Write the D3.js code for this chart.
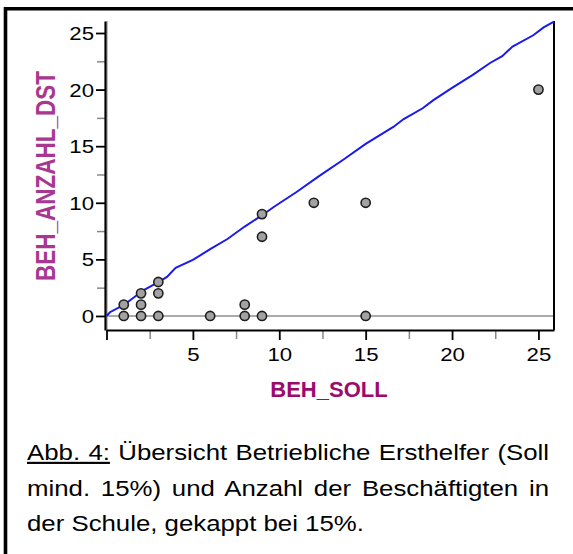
<!DOCTYPE html>
<html>
<head>
<meta charset="utf-8">
<script src="https://cdn.jsdelivr.net/npm/d3@7"></script>
<style>
  html, body { margin: 0; padding: 0; background: #fff; }
  svg { display: block; font-family: Arial, "Liberation Sans", sans-serif; }
</style>
</head>
<body>
<svg id="chart" width="573" height="554"></svg>
<script>
// Scatter BEH_SOLL vs BEH_ANZAHL_DST with a wobbly fit line
const sollValues   = [1, 1, 2, 2, 2, 3, 3, 3, 6, 8, 8, 9, 9, 9, 12, 15, 15, 25];
const anzahlValues = [0, 1, 0, 1, 2, 0, 2, 3, 0, 0, 1, 0, 7, 9, 10, 10, 0, 20];

// fit line
const fitX = [0, 0.2, 1.0, 1.6, 2.1, 2.9, 3.5, 4.0, 5.0, 6.0, 7.0, 8.0, 9.0, 9.7, 11.0,
              12.3, 13.7, 15.0, 16.6, 17.2, 18.3, 18.9, 20.0, 21.2, 22.2, 22.9, 23.5, 24.7, 25.3, 25.9];
const fitY = [0, 0.33, 0.97, 1.65, 2.25, 2.9, 3.45, 4.25, 4.95, 5.9, 6.8, 7.9, 8.9, 9.65, 10.95,
              12.35, 13.8, 15.2, 16.7, 17.4, 18.35, 19.05, 20.15, 21.3, 22.35, 22.95, 23.8, 24.8, 25.5, 26.0];

const majorTicks = [0, 5, 10, 15, 20, 25];
const minorTicks = [2.5, 7.5, 12.5, 17.5, 22.5];

const xTitle = "BEH_SOLL";
const yTitle = "BEH_ANZAHL_DST";
const captionLines = [
  { head: "Abb. 4:", text: " Übersicht Betriebliche Ersthelfer (Soll", justify: true },
  { head: "", text: "mind. 15%) und Anzahl der Beschäftigten in", justify: true },
  { head: "", text: "der Schule, gekappt bei 15%.", justify: false }
];

(function() {
  const svg = d3.select("#chart");
  const stretch = 1.2; // text in the picture is a bit wide

  // outer frame (only top and left visible)
  svg.append("path")
    .attr("d", "M5.5,554 L5.5,8.7 L573,8.7")
    .attr("fill", "none")
    .attr("stroke", "#000")
    .attr("stroke-width", 3.6);

  const x = d3.scaleLinear().domain([0, 25.9]).range([106.5, 554]);
  const y = d3.scaleLinear().domain([-1.24, 26.06]).range([330, 21]);

  const g = svg.append("g");

  // reference lines at 0
  g.append("line")
    .attr("x1", x(0)).attr("x2", x(25.9))
    .attr("y1", y(0)).attr("y2", y(0))
    .attr("stroke", "#aaa").attr("stroke-width", 2);
  g.append("line")
    .attr("x1", x(0) + 0.5).attr("x2", x(0) + 0.5)
    .attr("y1", y(26.06)).attr("y2", y(-1.24))
    .attr("stroke", "#aaa").attr("stroke-width", 1.5);

  // right frame line
  g.append("line")
    .attr("x1", 554).attr("x2", 554)
    .attr("y1", 21).attr("y2", 330)
    .attr("stroke", "#000").attr("stroke-width", 2);

  // minor ticks
  const yMinor = g.append("g")
    .attr("transform", `translate(${x(0) - 1.5},0)`)
    .call(d3.axisLeft(y).tickValues(minorTicks).tickSize(8).tickFormat(""));
  yMinor.select(".domain").remove();
  yMinor.selectAll("line").attr("stroke", "#888").attr("stroke-width", 1.5);

  const xMinor = g.append("g")
    .attr("transform", `translate(0,${y(-1.24)})`)
    .call(d3.axisBottom(x).tickValues(minorTicks).tickSize(9).tickFormat(""));
  xMinor.select(".domain").remove();
  xMinor.selectAll("line").attr("stroke", "#888").attr("stroke-width", 1.5);

  // major axes
  const yAxis = g.append("g")
    .attr("transform", `translate(${x(0) - 1.5},0)`)
    .call(d3.axisLeft(y).tickValues(majorTicks).tickSize(9).tickSizeOuter(0));
  yAxis.select(".domain").attr("stroke-width", 2.2);
  yAxis.selectAll("line").attr("stroke-width", 1.8);
  yAxis.selectAll("text")
    .attr("x", -11 / stretch)
    .attr("dy", "0.35em")
    .attr("transform", `scale(${stretch},1)`)
    .attr("font-size", 18.5)
    .attr("font-family", "Arial, 'Liberation Sans', sans-serif")
    .attr("fill", "#000");

  const xAxis = g.append("g")
    .attr("transform", `translate(0,${y(-1.24)})`)
    .call(d3.axisBottom(x).tickValues(majorTicks).tickSize(10).tickSizeOuter(0)
      .tickFormat(d => d === 0 ? "" : d));
  xAxis.select(".domain").attr("stroke-width", 2.2);
  xAxis.selectAll("line").attr("stroke-width", 1.8);
  xAxis.selectAll("text")
    .attr("y", 31)
    .attr("dy", 0)
    .attr("transform", `scale(${stretch},1)`)
    .attr("font-size", 18.5)
    .attr("font-family", "Arial, 'Liberation Sans', sans-serif")
    .attr("fill", "#000");

  // fit line
  const fit = fitX.map((v, i) => [v, fitY[i]]);
  g.append("path")
    .datum(fit)
    .attr("fill", "none")
    .attr("stroke", "#1a1aee")
    .attr("stroke-width", 2)
    .attr("d", d3.line().x(d => x(d[0])).y(d => y(d[1])));

  // points
  const pts = sollValues.map((v, i) => ({ soll: v, anzahl: anzahlValues[i] }));
  g.selectAll("circle.pt")
    .data(pts)
    .join("circle")
    .attr("class", "pt")
    .attr("cx", d => x(d.soll))
    .attr("cy", d => y(d.anzahl))
    .attr("r", 4.6)
    .attr("fill", "#a2a2a2")
    .attr("stroke", "#1e1e1e")
    .attr("stroke-width", 1.6);

  // axis titles
  svg.append("text")
    .attr("x", 329)
    .attr("y", 396.5)
    .attr("text-anchor", "middle")
    .attr("font-size", 22)
    .attr("font-weight", "bold")
    .attr("fill", "#9c0a6e")
    .text(xTitle);

  svg.append("text")
    .attr("transform", `translate(55,176) scale(${stretch},1) rotate(-90)`)
    .attr("text-anchor", "middle")
    .attr("font-size", 22.5)
    .attr("font-weight", "bold")
    .attr("fill", "#a8378f")
    .text(yTitle);

  // caption, justified like the document text
  const capLeft = 27, capRight = 549, capSize = 21.5, capStretch = 1.2;
  const baselines = [460, 495.5, 530.5];
  captionLines.forEach((ln, i) => {
    const t = svg.append("text")
      .attr("transform", `translate(${capLeft},${baselines[i]}) scale(${capStretch},1)`)
      .attr("font-size", capSize)
      .attr("fill", "#000")
      .attr("xml:space", "preserve")
      .style("white-space", "pre");
    if (ln.head) {
      t.append("tspan").attr("text-decoration", "underline").text(ln.head);
    }
    t.append("tspan").text(ln.text);
    if (ln.justify) {
      const w = t.node().getComputedTextLength();
      const full = ln.head + ln.text;
      const gaps = (full.match(/ /g) || []).length;
      const extra = ((capRight - capLeft) / capStretch - w) / gaps;
      t.attr("word-spacing", extra);
    }
  });
})();
</script>
</body>
</html>
